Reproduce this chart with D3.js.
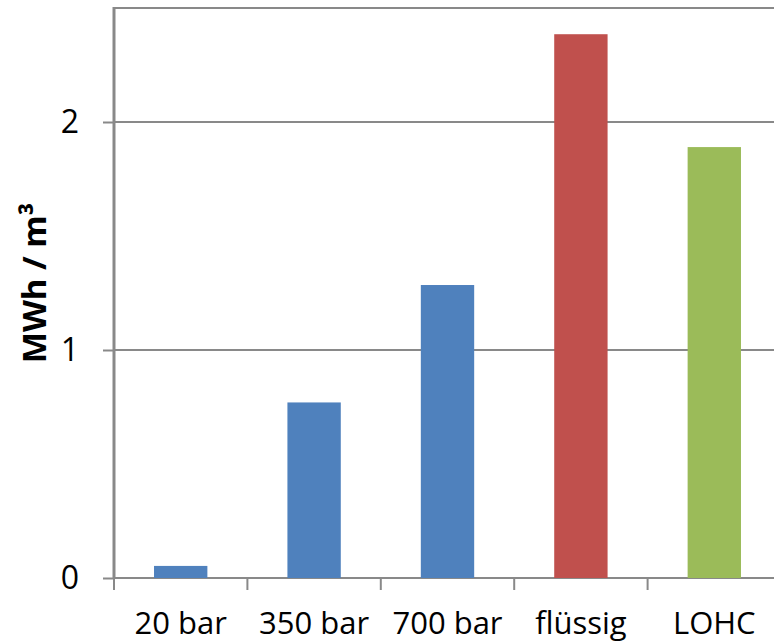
<!DOCTYPE html>
<html><head><meta charset="utf-8">
<script src="https://cdn.jsdelivr.net/npm/d3@7"></script>
<style>body{margin:0;background:#fff}svg{display:block}</style>
</head><body>
<script>
const categories = ["20 bar", "350 bar", "700 bar", "flüssig", "LOHC"];
const values = [0.053, 0.77, 1.285, 2.385, 1.89];
const colors = ["#4F81BD", "#4F81BD", "#4F81BD", "#C0504D", "#9BBB59"];
const yTicks = [0, 1, 2];
const yMax = 2.5;
const yTitle = "MWh / m³";

const W = 774, H = 643;
const m = {left: 114, top: 8, right: 781, bottom: 578};
const svg = d3.select("body").append("svg").attr("width", W).attr("height", H);
const x = d3.scaleBand().domain(categories).range([m.left, m.right]).paddingInner(0).paddingOuter(0);
const y = d3.scaleLinear().domain([0, yMax]).range([m.bottom, m.top]);
const grey = "#898989";
const font = "'Open Sans', sans-serif";

// gridlines incl. top
svg.append("g").selectAll("line").data(yTicks.concat([yMax])).join("line")
  .attr("x1", m.left).attr("x2", m.right)
  .attr("y1", d => y(d)).attr("y2", d => y(d))
  .attr("stroke", grey).attr("stroke-width", 2);

// bars
svg.append("g").selectAll("rect").data(categories).join("rect")
  .attr("x", d => x(d) + x.bandwidth() * 0.3)
  .attr("width", x.bandwidth() * 0.4)
  .attr("y", (d, i) => y(values[i]))
  .attr("height", (d, i) => y(0) - y(values[i]))
  .attr("fill", (d, i) => colors[i]);

// y axis
const ya = svg.append("g").attr("transform", `translate(${m.left},0)`)
  .call(d3.axisLeft(y).tickValues(yTicks).tickSize(11).tickPadding(24).tickFormat(d3.format("d")));
ya.select(".domain").remove();
ya.selectAll(".tick line").attr("stroke", grey).attr("stroke-width", 2);
ya.selectAll(".tick text").attr("font-family", font).attr("font-size", 32).attr("fill", "#000");
svg.append("line").attr("x1", m.left).attr("x2", m.left).attr("y1", m.top - 1).attr("y2", m.bottom + 1)
  .attr("stroke", grey).attr("stroke-width", 3);

// x axis
const xa = svg.append("g").attr("transform", `translate(0,${m.bottom})`)
  .call(d3.axisBottom(x).tickSize(0).tickPadding(34));
xa.select(".domain").remove();
xa.selectAll(".tick text").attr("font-family", font).attr("font-size", 31).attr("fill", "#000");
const bounds = categories.map(c => x(c)).concat([x(categories[categories.length - 1]) + x.bandwidth()]);
svg.append("g").selectAll("line").data(bounds).join("line")
  .attr("x1", d => d).attr("x2", d => d).attr("y1", m.bottom).attr("y2", m.bottom + 12)
  .attr("stroke", grey).attr("stroke-width", 2);

// y title
svg.append("text").attr("transform", `translate(46,283) rotate(-90)`)
  .attr("text-anchor", "middle").attr("font-family", font).attr("font-weight", "bold")
  .attr("font-size", 33).attr("fill", "#000").text(yTitle);
</script>
</body></html>
